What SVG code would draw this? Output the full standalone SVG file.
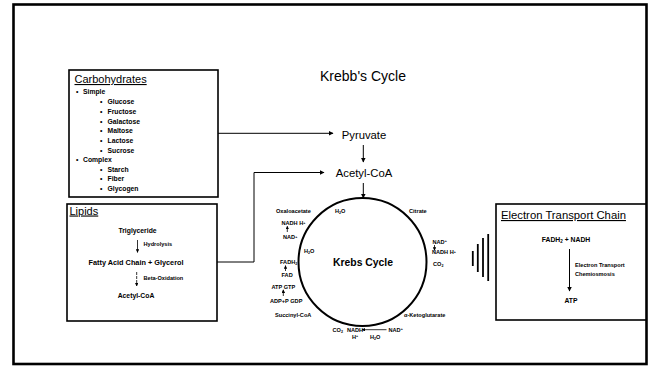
<svg xmlns="http://www.w3.org/2000/svg" width="651" height="367" viewBox="0 0 651 367">
<defs>
<marker id="ah" viewBox="0 0 10 10" refX="9" refY="5" markerWidth="5" markerHeight="5" markerUnits="userSpaceOnUse" orient="auto"><path d="M0,0 L10,5 L0,10 z" fill="#000"/></marker>
<marker id="ahs" viewBox="0 0 10 10" refX="9" refY="5" markerWidth="3.5" markerHeight="3.5" markerUnits="userSpaceOnUse" orient="auto"><path d="M0,0 L10,5 L0,10 z" fill="#000"/></marker>
<style>
text{font-family:"Liberation Sans",Arial,sans-serif;fill:#000}
.box{fill:#fff;stroke:#000;stroke-width:1.6}
.hd{font-size:11px}
.li{font-size:6.8px;font-weight:bold}
.sm{font-size:5.6px;font-weight:bold}
.big{font-size:11.3px}
.ln{fill:none;stroke:#000;stroke-width:1}
.la{fill:none;stroke:#000;stroke-width:1;marker-end:url(#ah)}
.ls{fill:none;stroke:#000;stroke-width:0.8;marker-end:url(#ahs)}
.bar{stroke:#000;stroke-width:1.8}
</style>
</defs>
<rect width="651" height="367" fill="#fff"/>
<rect x="13.5" y="4.5" width="633" height="359.5" fill="none" stroke="#000" stroke-width="2.6"/>

<g id="title"><text x="363" y="81" font-size="14" text-anchor="middle">Krebb's Cycle</text></g>

<g id="carbohydrates">
<rect class="box" x="69" y="70" width="149" height="127"/>
<text class="hd" x="74.5" y="83" text-decoration="underline">Carbohydrates</text>
<text class="li" x="76" y="93.5">•</text><text class="li" x="83" y="93.5">Simple</text>
<text class="li" x="100" y="104.3">•</text><text class="li" x="107.5" y="104.3">Glucose</text>
<text class="li" x="100" y="114">•</text><text class="li" x="107.5" y="114">Fructose</text>
<text class="li" x="100" y="123.7">•</text><text class="li" x="107.5" y="123.7">Galactose</text>
<text class="li" x="100" y="133.4">•</text><text class="li" x="107.5" y="133.4">Maltose</text>
<text class="li" x="100" y="143.1">•</text><text class="li" x="107.5" y="143.1">Lactose</text>
<text class="li" x="100" y="152.8">•</text><text class="li" x="107.5" y="152.8">Sucrose</text>
<text class="li" x="76" y="162.2">•</text><text class="li" x="83" y="162.2">Complex</text>
<text class="li" x="100" y="171.9">•</text><text class="li" x="107.5" y="171.9">Starch</text>
<text class="li" x="100" y="181.4">•</text><text class="li" x="107.5" y="181.4">Fiber</text>
<text class="li" x="100" y="191.3">•</text><text class="li" x="107.5" y="191.3">Glycogen</text>
</g>

<g id="lipids">
<rect class="box" x="67" y="204" width="150" height="117"/>
<text class="hd" x="69.5" y="214.5" text-decoration="underline">Lipids</text>
<text class="li" x="137.5" y="232.5" text-anchor="middle">Triglyceride</text>
<line class="ls" x1="137.5" y1="240" x2="137.5" y2="252.5"/>
<text class="sm" x="143.5" y="246.3">Hydrolysis</text>
<text class="li" x="136" y="264.7" text-anchor="middle" textLength="95" lengthAdjust="spacingAndGlyphs">Fatty Acid Chain + Glycerol</text>
<line class="ls" x1="136.7" y1="272" x2="136.7" y2="286" stroke-dasharray="3,1"/>
<text class="sm" x="143.5" y="280.3">Beta-Oxidation</text>
<text class="li" x="136" y="298.4" text-anchor="middle">Acetyl-CoA</text>
</g>

<g id="pyruvate"><text class="big" x="364" y="139" text-anchor="middle">Pyruvate</text></g>
<g id="acetyl-coa"><text class="big" x="364" y="176.5" text-anchor="middle">Acetyl-CoA</text></g>

<g id="krebs-cycle">
<circle cx="362.5" cy="262" r="64" fill="none" stroke="#000" stroke-width="2"/>
<text x="363" y="266" font-size="11.5" font-weight="bold" text-anchor="middle" textLength="60" lengthAdjust="spacingAndGlyphs">Krebs Cycle</text>
<text class="sm" x="276" y="213">Oxaloacetate</text>
<text class="sm" x="335" y="213">H<tspan font-size="3.6" dy="1.2">2</tspan><tspan dy="-1.2">O</tspan></text>
<text class="sm" x="409" y="213">Citrate</text>
<text class="sm" x="281.5" y="225">NADH H<tspan font-size="3.6" dy="-1.5">+</tspan></text>
<line class="ls" x1="287.3" y1="232" x2="287.3" y2="226.2"/>
<text class="sm" x="283" y="239">NAD<tspan font-size="3.6" dy="-1.5">+</tspan></text>
<text class="sm" x="304" y="253">H<tspan font-size="3.6" dy="1.2">2</tspan><tspan dy="-1.2">O</tspan></text>
<text class="sm" x="280" y="264">FADH<tspan font-size="3.6" dy="1.2">2</tspan></text>
<line class="ls" x1="285.5" y1="271" x2="285.5" y2="265.5"/>
<text class="sm" x="281.5" y="277.3">FAD</text>
<text class="sm" x="271.5" y="288.5">ATP  GTP</text>
<line class="ls" x1="283.3" y1="296" x2="283.3" y2="289.8"/>
<text class="sm" x="270" y="303">ADP+P  GDP</text>
<text class="sm" x="275" y="317">Succinyl-CoA</text>
<text class="sm" x="404" y="317">α-Ketoglutarate</text>
<text class="sm" x="432.5" y="243.5">NAD<tspan font-size="3.6" dy="-1.5">+</tspan></text>
<line class="ls" x1="434.5" y1="245" x2="434.5" y2="250.5"/>
<text class="sm" x="432" y="254">NADH H<tspan font-size="3.6" dy="-1.5">+</tspan></text>
<text class="sm" x="433" y="265.5">CO<tspan font-size="3.6" dy="1.2">2</tspan></text>
<text class="sm" x="332.5" y="331.5">CO<tspan font-size="3.6" dy="1.2">2</tspan></text>
<text class="sm" x="347" y="331.5">NADH</text>
<text class="sm" x="352" y="338.5">H<tspan font-size="3.6" dy="-1.5">+</tspan></text>
<line class="ls" x1="386.5" y1="329.7" x2="362" y2="329.7"/>
<text class="sm" x="370" y="338.5">H<tspan font-size="3.6" dy="1.2">2</tspan><tspan dy="-1.2">O</tspan></text>
<text class="sm" x="388.5" y="331.5">NAD<tspan font-size="3.6" dy="-1.5">+</tspan></text>
</g>

<g id="signal">
<line class="bar" x1="472.8" y1="251" x2="472.8" y2="266"/>
<line class="bar" x1="477.8" y1="244" x2="477.8" y2="272"/>
<line class="bar" x1="483" y1="238" x2="483" y2="277"/>
<line class="bar" x1="488.2" y1="234" x2="488.2" y2="281"/>
</g>

<g id="electron-transport-chain">
<rect class="box" x="496" y="204" width="150" height="116"/>
<text x="501" y="219" font-size="11.3" text-decoration="underline">Electron Transport Chain</text>
<text class="li" x="566" y="241.5" text-anchor="middle">FADH<tspan font-size="4.5" dy="1.5">2</tspan><tspan dy="-1.5"> + NADH</tspan></text>
<line class="la" x1="569.5" y1="249" x2="569.5" y2="291"/>
<text class="sm" x="575" y="267">Electron Transport</text>
<text class="sm" x="575" y="275.5">Chemiosmosis</text>
<text class="li" x="571" y="302.5" text-anchor="middle">ATP</text>
</g>

<g id="connectors">
<polyline class="la" points="218,133.3 333,133.3"/>
<polyline class="la" points="217,262 254,262 254,172.5 324,172.5"/>
<line class="la" x1="363.3" y1="145" x2="363.3" y2="162"/>
<line class="la" x1="363.3" y1="183" x2="363.3" y2="198"/>
</g>
</svg>
